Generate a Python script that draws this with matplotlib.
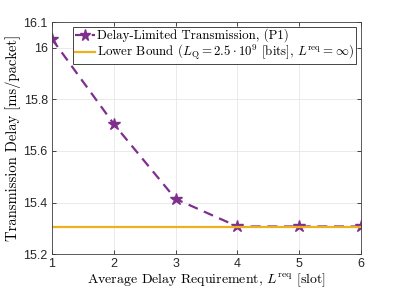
import matplotlib
matplotlib.use('Agg')
import matplotlib.pyplot as plt

# values
delay_req = [1, 2, 3, 4, 5, 6]
tx_delay = [16.035, 15.705, 15.414, 15.307, 15.307, 15.307]
lower_bound = 15.305

purple = '#7E2F8E'
yellow = '#EDB120'

plt.rcParams['mathtext.fontset'] = 'cm'
plt.rcParams['axes.unicode_minus'] = False

fig = plt.figure(figsize=(3.99, 2.91), dpi=100)
ax = fig.add_axes([0.130, 0.127, 0.775, 0.797])

ax.plot(delay_req, tx_delay, color=purple, linestyle=(0, (4.5, 3)), linewidth=1.6,
        marker='*', markersize=9, markerfacecolor=purple, markeredgecolor=purple,
        label='Delay-Limited Transmission, (P1)')
ax.axhline(lower_bound, color=yellow, linewidth=1.6,
           label=r'Lower Bound ($L_{\mathrm{Q}}=2.5\cdot 10^{9}$ [bits], $L^{\mathrm{req}}=\infty$)')

ax.set_xlim(1, 6)
ax.set_ylim(15.2, 16.1)
ax.set_xticks([1, 2, 3, 4, 5, 6])
ax.set_yticks([15.2, 15.4, 15.6, 15.8, 16.0, 16.1])
ax.set_yticklabels(['15.2', '15.4', '15.6', '15.8', '16', '16.1'])
ax.grid(True, color='#e6e6e6', linewidth=0.6)
ax.set_axisbelow(True)

for lab in ax.get_xticklabels() + ax.get_yticklabels():
    lab.set_family('Liberation Sans')
    lab.set_fontsize(9)
ax.tick_params(direction='in', top=True, right=True, length=3, width=0.6,
               colors='#262626', pad=3)
for s in ax.spines.values():
    s.set_color('#404040')
    s.set_linewidth(0.6)

ax.set_xlabel(r'Average Delay Requirement, $L^{\mathrm{req}}$ [slot]',
              family='cmr10', fontsize=10, labelpad=1)
ax.set_ylabel('Transmission Delay [ms/packet]', family='cmr10', fontsize=10.5, labelpad=2)

leg = ax.legend(loc='upper left', bbox_to_anchor=(0.068, 0.98), prop={'family': 'cmr10', 'size': 9.3},
                fancybox=False, framealpha=1, edgecolor='#262626', borderpad=0.15,
                handlelength=1.55, handletextpad=0.15, labelspacing=0.05, borderaxespad=0,
                markerscale=0.9)
leg.get_frame().set_linewidth(0.6)

fig.savefig('out.png', dpi=100)
